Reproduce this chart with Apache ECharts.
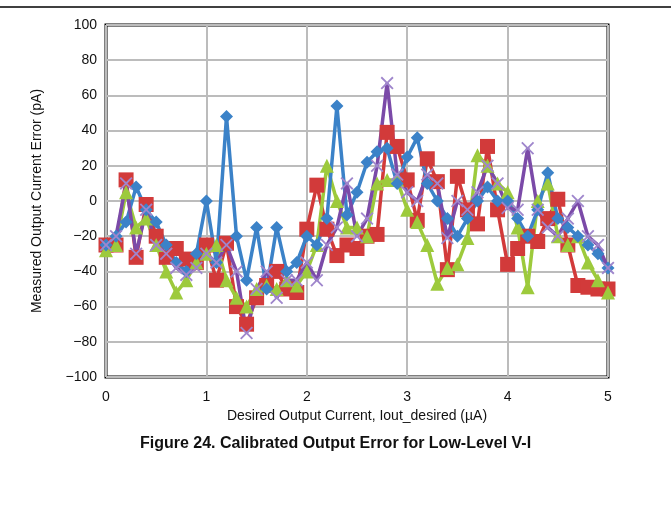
<!DOCTYPE html>
<html>
<head>
<meta charset="utf-8">
<script src="https://cdn.jsdelivr.net/npm/echarts@6/dist/echarts.min.js"></script>
<style>
html,body{margin:0;padding:0;background:#fff;}
#chart{width:671px;height:508px;}
</style>
</head>
<body>
<div id="chart"></div>
<script>
var xValues = [0.0,0.1,0.2,0.3,0.4,0.5,0.6,0.7,0.8,0.9,
               1.0,1.1,1.2,1.3,1.4,1.5,1.6,1.7,1.8,1.9,
               2.0,2.1,2.2,2.3,2.4,2.5,2.6,2.7,2.8,2.9,
               3.0,3.1,3.2,3.3,3.4,3.5,3.6,3.7,3.8,3.9,
               4.0,4.1,4.2,4.3,4.4,4.5,4.6,4.7,4.8,4.9,5.0];

var blueVals = [-25,-20,-12,8,-5,-12,-25,-35,-40,-30,
                0,-35,48,-20,-45,-15,-50,-15,-40,-35,
                -20,-25,-10,54,-8,5,22,28,30,10,
                25,36,10,0,-10,-20,-10,0,8,0,
                0,-10,-20,-5,16,-10,-15,-20,-25,-30,-38];

var redVals = [-25,-25,12,-32,-2,-20,-32,-27,-33,-35,
               -25,-45,-24,-60,-70,-55,-48,-40,-50,-52,
               -16,9,-16,-31,-25,-27,-20,-19,39,31,
               12,-11,24,11,-39,14,-5,-13,31,-5,
               -36,-27,-20,-23,-10,1,-25,-48,-49,-50,-50];

var greenVals = [-28,-25,5,-15,-10,-25,-40,-52,-45,-35,
                 -30,-25,-45,-55,-60,-50,-48,-50,-45,-48,
                 -40,-25,20,0,-15,-15,-20,10,12,12,
                 -5,-12,-25,-47,-38,-36,-21,26,20,10,
                 5,-15,-49,0,10,-20,-25,-20,-35,-45,-52];

var purpleVals = [-25,-20,10,-30,-5,-25,-30,-38,-42,-38,
                  -30,-35,-25,-40,-75,-50,-40,-55,-45,-45,
                  -35,-45,-25,-15,10,-20,-10,20,67,15,
                  5,0,15,10,-21,0,-5,5,20,10,
                  -4,-5,30,-5,-15,-20,-10,0,-20,-25,-38];

var xTicks = [0,1,2,3,4,5];
var yTicks = [-100,-80,-60,-40,-20,0,20,40,60,80,100];

function pairs(vals){ return xValues.map(function(x,i){ return [x, vals[i]]; }); }

var FONT = 'Liberation Sans, Arial, sans-serif';
var xShape = 'path://M0,1 L1,0 L5,4 L9,0 L10,1 L6,5 L10,9 L9,10 L5,6 L1,10 L0,9 L4,5 Z';

function mk(name, vals, color, symbol, size, markerColor){
  return {
    name: name, type: 'line', data: pairs(vals),
    symbol: symbol, symbolSize: size, showAllSymbol: true,
    lineStyle: {color: color, width: 3.5},
    itemStyle: {color: markerColor || color},
    emphasis: {disabled: true}, animation: false
  };
}

var chart = echarts.init(document.getElementById('chart'), null, {renderer: 'canvas'});
chart.setOption({
  backgroundColor: '#ffffff',
  animation: false,
  grid: {left: 106, right: 63, top: 25, bottom: 131, show: true, borderColor: '#000', borderWidth: 3, backgroundColor: 'transparent'},
  xAxis: {
    type: 'value', min: xTicks[0], max: xTicks[xTicks.length-1], interval: 1,
    name: 'Desired Output Current, Iout_desired (µA)', nameLocation: 'middle', nameGap: 26,
    nameTextStyle: {fontFamily: FONT, fontSize: 14, color: '#111'},
    axisLine: {show: false}, axisTick: {show: false},
    axisLabel: {fontFamily: FONT, fontSize: 14, color: '#111', margin: 13},
    splitLine: {show: true, lineStyle: {color: '#bcbcbc', width: 2}}
  },
  yAxis: {
    type: 'value', min: yTicks[0], max: yTicks[yTicks.length-1], interval: 20,
    name: 'Measured Output Current Error (pA)', nameLocation: 'middle', nameGap: 62,
    nameTextStyle: {fontFamily: FONT, fontSize: 14, color: '#111'},
    axisLine: {show: false}, axisTick: {show: false},
    axisLabel: {fontFamily: FONT, fontSize: 14, color: '#111', margin: 9,
      formatter: function(v){ return String(v).replace('-', '\u2212'); }},
    splitLine: {show: true, lineStyle: {color: '#bcbcbc', width: 2}}
  },
  series: [
    mk('Red', redVals, '#d23a3a', 'rect', 15),
    mk('Green', greenVals, '#9dca3c', 'triangle', 14),
    mk('Blue', blueVals, '#3b82c8', 'diamond', 13),
    mk('Purple', purpleVals, '#7b4aa8', xShape, 13, '#9f86cc')
  ],
  graphic: [
    {type: 'line', shape: {x1: 0, y1: 7, x2: 671, y2: 7}, style: {stroke: '#000', lineWidth: 1.5}},
    {type: 'text', left: 'center', top: 436,
     style: {text: 'Figure 24. Calibrated Output Error for Low-Level V-I', font: 'bold 16px Liberation Sans, Arial, sans-serif', fill: '#111'}}
  ]
});
</script>
</body>
</html>
